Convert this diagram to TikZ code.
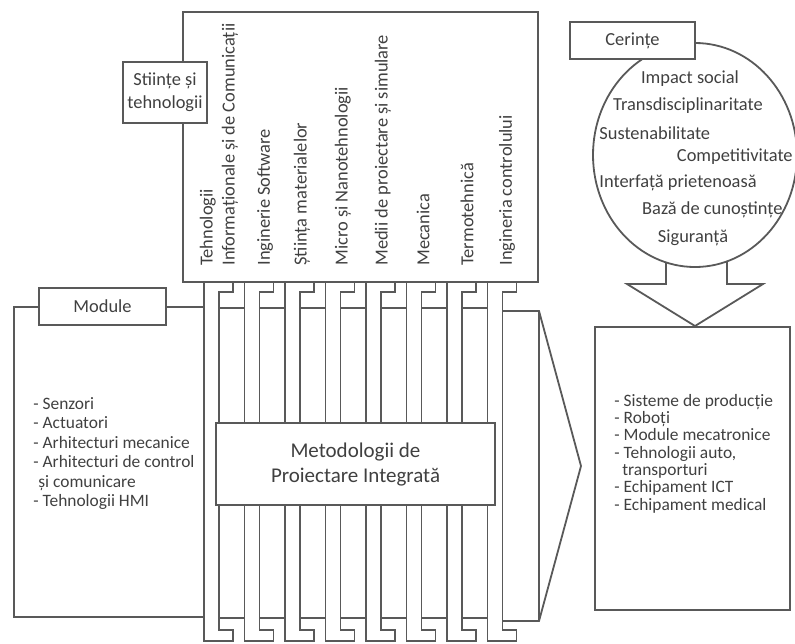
\documentclass[tikz,border=0pt]{standalone}
\usepackage{fontspec}
\setmainfont{Carlito}
\begin{document}
\begin{tikzpicture}[
  x=0.5pt, y=-0.5pt,
  every node/.style = {font=\fontsize{9.2}{11.5}\selectfont, text=black!75},
  ln/.style         = {draw=black!65, line width=0.9pt},
  tagbox/.style     = {ln, fill=white, align=center, inner sep=0pt},
  lst/.style        = {align=left, inner sep=0pt, anchor=west},
  sci/.style        = {rotate=90, anchor=west, inner sep=0pt},
  req/.style        = {inner sep=0pt},
]

\useasboundingbox (0,0) rectangle (795,643);

% ── SCIENCES (top block) ──────────────────────────────────────────────────────
\draw[ln] (183,12) rectangle (538,282);

\node[sci, align=left, font=\fontsize{9.2}{11}\selectfont] (tic) at (219,266)
  {Tehnologii\\Informaționale și de Comunicații};
\node[sci] (soft)  at (265,266) {Inginerie Software};
\node[sci] (mat)   at (302,266) {Știința materialelor};
\node[sci] (micro) at (343,266) {Micro și Nanotehnologii};
\node[sci] (medii) at (383,266) {Medii de proiectare și simulare};
\node[sci] (mec)   at (423,266) {Mecanica};
\node[sci] (term)  at (467,266) {Termotehnică};
\node[sci] (ctrl)  at (507,266) {Ingineria controlului};

\node[tagbox, minimum width=42pt, minimum height=30.5pt] (sciTag) at (165,92.5)
  {Stiințe și\\tehnologii};

% ── STRIPS and bands between them ─────────────────────────────────────────────
\foreach \i in {0,...,7} {
  \pgfmathsetmacro\L{204+40.5*\i}
  \draw[ln] (\L,282) -- (\L,641) -- (\L+29,641) -- (\L+29,630)
    -- (\L+15,630) -- (\L+15,292) -- (\L+29,292) -- (\L+29,282);
}
\foreach \i in {0,...,6} {
  \pgfmathsetmacro\L{204+40.5*\i}
  \draw[ln] (\L+15,308) rectangle (\L+40.5,618);
}

% ── MODULES (left) ────────────────────────────────────────────────────────────
\draw[ln] (14,307) rectangle (204,617);
\node[tagbox, minimum width=63.5pt, minimum height=18.5pt] (modTag) at (102.5,306.5)
  {Module};
\node[lst, font=\fontsize{8.7}{9.75}\selectfont] (modList) at (33,453.5)
  {- Senzori\\- Actuatori\\- Arhitecturi mecanice\\- Arhitecturi de control\\
   \hspace*{2.5pt}și comunicare\\- Tehnologii HMI};

% ── OUTPUT ARROW (right of strips) ────────────────────────────────────────────
\draw[ln] (502.5,311) -- (539,311) -- (581,466) -- (539,621) -- (502.5,621);
\draw[ln] (539,311) -- (539,621);

% ── METHODOLOGY (centre) ──────────────────────────────────────────────────────
\node[tagbox, minimum width=139.5pt, minimum height=41pt,
      font=\fontsize{10.5}{12.5}\selectfont] (method) at (355.5,464)
  {Metodologii de\\Proiectare Integrată};

% ── REQUIREMENTS (circle) ─────────────────────────────────────────────────────
\draw[ln] (695,155) ellipse [x radius=102, y radius=112];
\node[tagbox, minimum width=62.5pt, minimum height=18.5pt] (reqTag) at (632.5,40.5)
  {Cerințe};

\node[req] (impact) at (690,79) {Impact social};
\node[req] (trans)  at (688,106) {Transdisciplinaritate};
\node[req, anchor=west] (sust) at (599,133) {Sustenabilitate};
\node[req, anchor=east] (comp) at (793,157) {Competitivitate};
\node[req, anchor=west] (intf) at (599,183) {Interfață prietenoasă};
\node[req, anchor=east] (baza) at (783,210) {Bază de cunoștințe};
\node[req] (sig)    at (693,238) {Siguranță};

% ── DOWN ARROW ────────────────────────────────────────────────────────────────
\draw[ln] (666,262) -- (666,284) -- (627,284) -- (695,326) -- (763,284)
  -- (727,284) -- (727,261);

% ── APPLICATIONS (right) ──────────────────────────────────────────────────────
\draw[ln] (595,327) rectangle (790,610);
\node[lst, font=\fontsize{8.7}{8.65}\selectfont] (appList) at (614,453.5)
  {- Sisteme de producție\\- Roboți\\- Module mecatronice\\- Tehnologii auto,\\
   \hspace*{4pt}transporturi\\- Echipament ICT\\- Echipament medical};

\end{tikzpicture}
\end{document}
